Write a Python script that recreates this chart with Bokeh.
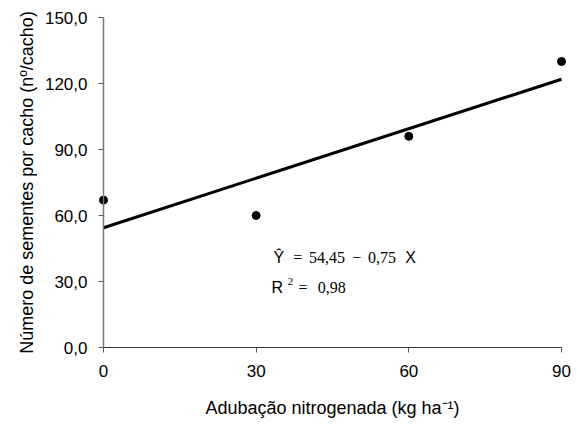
from bokeh.plotting import figure
from bokeh.models import Range1d, Label, FixedTicker, CustomJSTickFormatter, Span
from bokeh.embed import file_html
from bokeh.resources import INLINE

# data
doses = [0, 30, 60, 90]
sementes = [67, 60, 96, 130]
intercept = 54.45
slope = 0.75
x_ticks = [0, 30, 60, 90]
y_ticks = [0, 30, 60, 90, 120, 150]

fit_x = [doses[0], doses[-1]]
fit_y = [intercept + slope * v for v in fit_x]

SANS = "Liberation Sans"
SERIF = "Liberation Serif"

# small padding so the end markers are not clipped by the frame
pad = 90 * 8 / 458
p = figure(width=577, height=424, output_backend="svg", toolbar_location=None,
           x_range=Range1d(x_ticks[0] - pad, x_ticks[-1] + pad), y_range=Range1d(0, 150),
           min_border_left=95, min_border_right=8, min_border_top=17, min_border_bottom=77)
p.outline_line_color = None
p.xgrid.visible = False
p.ygrid.visible = False
p.background_fill_color = "white"
p.border_fill_color = "white"

# y axis line at x = 0
p.add_layout(Span(location=x_ticks[0], dimension="height", line_color="#777777", line_width=1.5))

p.line(fit_x, fit_y, line_color="black", line_width=3)
p.scatter(doses, sementes, size=8, color="black")

p.xaxis.ticker = FixedTicker(ticks=x_ticks)
p.xaxis.bounds = (x_ticks[0], x_ticks[-1])
p.yaxis.ticker = FixedTicker(ticks=y_ticks)
p.yaxis.formatter = CustomJSTickFormatter(code="return tick.toFixed(1).replace('.', ',');")

for ax in (p.xaxis[0], p.yaxis[0]):
    ax.major_label_text_font = SANS
    ax.major_label_text_font_size = "17px"
    ax.major_label_text_color = "black"
    ax.minor_tick_line_color = None
    ax.axis_label_text_font = SANS
    ax.axis_label_text_font_style = "normal"
    ax.axis_label_text_font_size = "18px"
    ax.axis_label_text_color = "black"

p.xaxis.major_tick_in = 0
p.xaxis.major_tick_out = 5
p.xaxis.axis_line_color = "#333333"
p.xaxis.major_tick_line_color = "#555555"
p.xaxis.major_label_standoff = 12

p.yaxis.axis_line_color = None
p.yaxis.major_tick_in = 8
p.yaxis.major_tick_out = -3
p.yaxis.major_tick_line_color = "#555555"
p.yaxis.major_label_standoff = 8

p.yaxis.axis_label = "Número de sementes por cacho (nº/cacho)"
p.yaxis.axis_label_standoff = 5
p.xaxis.axis_label = "Adubação nitrogenada (kg ha⁻¹)"
p.xaxis.axis_label_standoff = 18

# equation annotation
eq_y1 = 40.9
eq_y2 = 27.3
def lab(x, y, t, font, size):
    p.add_layout(Label(x=x, y=y, text=t, text_font=font, text_font_size=size,
                       text_color="black", text_baseline="alphabetic"))

lab(33.4, eq_y1, "Ŷ", SANS, "16px")
lab(37.3, eq_y1, "=", SERIF, "16px")
lab(40.4, eq_y1, "54,45", SERIF, "16px")
lab(48.9, eq_y1, "−", SERIF, "16px")
lab(52.0, eq_y1, "0,75", SERIF, "16px")
lab(59.3, eq_y1, "X", SANS, "16px")

lab(33.0, eq_y2, "R", SANS, "16px")
lab(36.2, eq_y2 + 2.8, "2", SERIF, "11px")
lab(38.3, eq_y2, "=", SERIF, "16px")
lab(42.1, eq_y2, "0,98", SERIF, "16px")

open("out.html", "w").write(file_html(p, INLINE))
